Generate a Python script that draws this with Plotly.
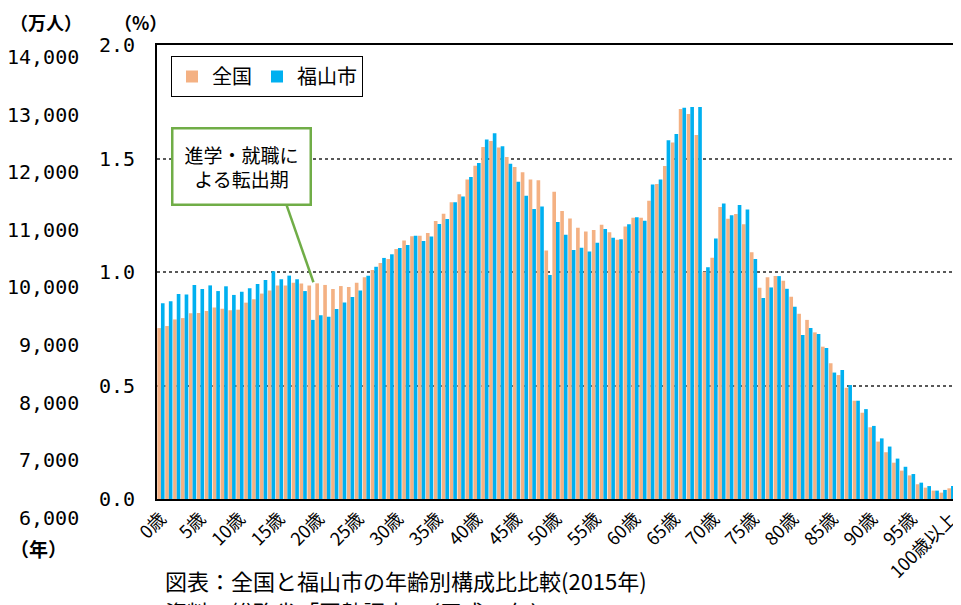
import plotly.graph_objects as go

ages = [f"{i}歳" for i in range(100)] + ["100歳以上"]

zenkoku = [
    0.753, 0.762, 0.791, 0.797, 0.818, 0.819, 0.828, 0.844, 0.838, 0.831,
    0.834, 0.865, 0.880, 0.905, 0.919, 0.940, 0.940, 0.953, 0.949, 0.940,
    0.950, 0.943, 0.925, 0.938, 0.934, 0.953, 0.977, 1.009, 1.040, 1.057,
    1.101, 1.139, 1.157, 1.160, 1.172, 1.225, 1.257, 1.307, 1.342, 1.407,
    1.468, 1.551, 1.577, 1.548, 1.507, 1.463, 1.439, 1.408, 1.404, 1.095,
    1.354, 1.269, 1.236, 1.195, 1.178, 1.185, 1.208, 1.175, 1.142, 1.200,
    1.239, 1.239, 1.314, 1.388, 1.467, 1.571, 1.718, 1.696, 1.604, 1.001,
    1.063, 1.286, 1.235, 1.256, 1.210, 1.087, 0.931, 0.977, 0.982, 0.962,
    0.891, 0.816, 0.789, 0.734, 0.671, 0.598, 0.546, 0.490, 0.433, 0.380,
    0.316, 0.253, 0.206, 0.160, 0.125, 0.104, 0.065, 0.050, 0.037, 0.028,
    0.047,
]

fukuyama = [
    0.862, 0.871, 0.903, 0.901, 0.943, 0.925, 0.941, 0.916, 0.937, 0.899,
    0.913, 0.928, 0.947, 0.965, 1.003, 0.968, 0.984, 0.968, 0.916, 0.789,
    0.809, 0.803, 0.837, 0.866, 0.890, 0.919, 0.984, 1.023, 1.062, 1.078,
    1.106, 1.119, 1.160, 1.137, 1.156, 1.211, 1.233, 1.307, 1.333, 1.419,
    1.480, 1.584, 1.611, 1.554, 1.477, 1.398, 1.336, 1.278, 1.288, 0.987,
    1.220, 1.164, 1.097, 1.107, 1.090, 1.129, 1.189, 1.151, 1.144, 1.210,
    1.241, 1.226, 1.386, 1.407, 1.580, 1.608, 1.724, 1.727, 1.727, 1.021,
    1.148, 1.302, 1.250, 1.295, 1.275, 1.057, 0.885, 0.932, 0.982, 0.926,
    0.847, 0.722, 0.753, 0.727, 0.665, 0.557, 0.568, 0.502, 0.433, 0.396,
    0.322, 0.267, 0.231, 0.178, 0.142, 0.110, 0.072, 0.057, 0.037, 0.040,
    0.057,
]

x_tick_labels = [f"{i}歳" for i in range(0, 100, 5)] + ["100歳以上"]
y_tick_vals = [0.0, 0.5, 1.0, 1.5, 2.0]
y_tick_text = ["0.0", "0.5", "1.0", "1.5", "2.0"]
left_labels = ["14,000", "13,000", "12,000", "11,000", "10,000",
               "9,000", "8,000", "7,000", "6,000"]

ORANGE = "#F4B183"
BLUE = "#00B0F0"
GREEN = "#70AD47"
JP = "Noto Sans CJK JP"
MONO = "DejaVu Sans Mono"

fig = go.Figure()
fig.add_trace(go.Bar(x=ages, y=zenkoku, name="全国", marker=dict(color=ORANGE, line=dict(width=0))))
fig.add_trace(go.Bar(x=ages, y=fukuyama, name="福山市", marker=dict(color=BLUE, line=dict(width=0))))

# page body has an 8px default margin: build the figure 8px smaller and
# express positions in window pixels
OFF = 8
W, H = 961 - OFF, 605 - OFF
PL, PR, PT, PB = 157, 955, 45, 499   # plot area in window pixels
L, R, T, B = PL - OFF, W - (PR - OFF), PT - OFF, H - (PB - OFF)
pw, ph = W - L - R, H - T - B

def px_x(x):
    return (x - OFF - L) / pw

def px_y(y):
    return (H - B - (y - OFF)) / ph

fig.update_layout(
    width=W, height=H,
    margin=dict(l=L, r=R, t=T, b=B, autoexpand=False),
    paper_bgcolor="white", plot_bgcolor="white",
    barmode="group", bargap=0.08, bargroupgap=0.0,
    font=dict(family=JP, color="black"),
    showlegend=True,
    legend=dict(
        orientation="h", x=px_x(171), y=px_y(56), xanchor="left", yanchor="top",
        bordercolor="black", borderwidth=1, bgcolor="white",
        font=dict(family=JP, size=20, color="black"),
        itemwidth=30, tracegroupgap=0, traceorder="normal",
    ),
    xaxis=dict(
        type="category", tickmode="array", tickvals=x_tick_labels, ticktext=x_tick_labels,
        tickangle=-45, ticks="", showgrid=False, automargin=False,
        showline=True, linecolor="black", linewidth=2, mirror=True,
        tickfont=dict(family=JP, size=18, color="black"),
    ),
    yaxis=dict(
        range=[0, 2.0], tickmode="array", tickvals=y_tick_vals, ticktext=y_tick_text,
        ticks="", showgrid=True, gridcolor="#595959", griddash="dot", gridwidth=1.5,
        showline=True, linecolor="black", linewidth=2, mirror=True, automargin=False,
        tickfont=dict(family=MONO, size=20, color="black"),
        ticklabelstandoff=16, zeroline=False,
    ),
)

annotations = []
for i, lab in enumerate(left_labels):
    annotations.append(dict(
        text=lab, xref="paper", yref="paper", x=px_x(81), y=px_y(57 + i * 57.6),
        xanchor="right", yanchor="middle", showarrow=False,
        font=dict(family=MONO, size=20, color="black"),
    ))
annotations += [
    dict(text="<b>（万人）</b>", xref="paper", yref="paper", x=px_x(8), y=px_y(22),
         xanchor="left", yanchor="middle", showarrow=False,
         font=dict(family=JP, size=18, color="black")),
    dict(text="<b>（年）</b>", xref="paper", yref="paper", x=px_x(8), y=px_y(548),
         xanchor="left", yanchor="middle", showarrow=False,
         font=dict(family=JP, size=19, color="black")),
    dict(text="<b>（%）</b>", xref="paper", yref="paper", x=px_x(112), y=px_y(22),
         xanchor="left", yanchor="middle", showarrow=False,
         font=dict(family=JP, size=18, color="black")),
    dict(text="進学・就職に<br>よる転出期", xref="paper", yref="paper",
         x=px_x(241), y=px_y(166), xanchor="center", yanchor="middle",
         showarrow=False, bgcolor="white", bordercolor=GREEN, borderwidth=2.5,
         borderpad=11, align="center",
         font=dict(family=JP, size=19, color="black")),
    dict(text="図表：全国と福山市の年齢別構成比比較(2015年)", xref="paper", yref="paper",
         x=px_x(163), y=px_y(580), xanchor="left", yanchor="middle", showarrow=False,
         font=dict(family=JP, size=22, color="black")),
    dict(text="資料：総務省「国勢調査」（平成27年）", xref="paper", yref="paper",
         x=px_x(163), y=px_y(611), xanchor="left", yanchor="middle", showarrow=False,
         font=dict(family=JP, size=22, color="black")),
]
fig.update_layout(annotations=annotations)

fig.add_shape(type="line", xref="x", yref="y",
              x0=15.9, y0=1.295, x1=19.3, y1=0.955,
              line=dict(color=GREEN, width=2.5), layer="above")

fig.write_html("out.html")
